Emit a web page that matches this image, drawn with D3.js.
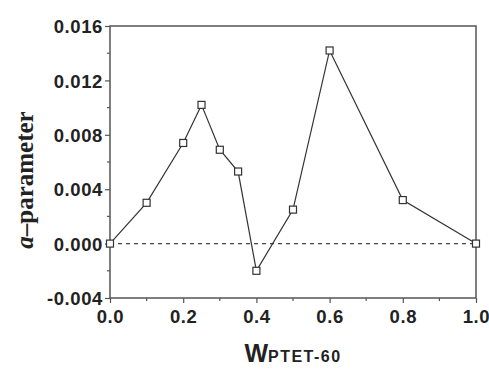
<!DOCTYPE html>
<html>
<head>
<meta charset="utf-8">
<script src="https://cdn.jsdelivr.net/npm/d3@7"></script>
<style>
body { margin: 0; background: #fff; }
.tick text { font-family: "Liberation Sans", Arial, sans-serif; font-weight: bold; font-size: 18.5px; letter-spacing: 0.6px; fill: #222; }
</style>
</head>
<body>
<div id="chart"></div>
<script>
var width = 489,
    height = 369;

// data
var xValues = [0.0, 0.1, 0.2, 0.25, 0.3, 0.35, 0.4, 0.5, 0.6, 0.8, 1.0];
var aValues = [0.0000, 0.0030, 0.0074, 0.0102, 0.0069, 0.0053, -0.0020, 0.0025, 0.0142, 0.0032, 0.0000];
var xTicks = [0, 0.2, 0.4, 0.6, 0.8, 1.0];
var yTicks = [-0.004, 0, 0.004, 0.008, 0.012, 0.016];

var margin = {top: 26, right: 13, bottom: 71, left: 110};

var svg = d3.select('#chart')
    .append('svg')
    .attr('width', width)
    .attr('height', height);

var x = d3.scaleLinear().domain([0, 1]).range([margin.left, width - margin.right]);
var y = d3.scaleLinear().domain([-0.004, 0.016]).range([height - margin.bottom, margin.top]);

var axisColor = '#555';
// plain hyphen for negatives, like the original
var fmt = p => d => d3.format(p)(d).replace('\u2212', '-');

// minor ticks
var xMinor = d3.range(0.1, 1, 0.2);
var yMinor = d3.range(-0.002, 0.016, 0.004);
svg.append('g').selectAll('line')
    .data(xMinor)
    .enter()
    .append('line')
    .attr('x1', d => x(d)).attr('x2', d => x(d))
    .attr('y1', y.range()[0]).attr('y2', y.range()[0] + 3)
    .attr('stroke', axisColor).attr('stroke-width', 1.2);
svg.append('g').selectAll('line')
    .data(yMinor)
    .enter()
    .append('line')
    .attr('x1', x.range()[0] - 3).attr('x2', x.range()[0])
    .attr('y1', d => y(d)).attr('y2', d => y(d))
    .attr('stroke', axisColor).attr('stroke-width', 1.2);

var xAxis = svg.append('g')
    .attr('transform', 'translate(0,' + y.range()[0] + ')')
    .call(d3.axisBottom(x).tickValues(xTicks).tickFormat(fmt('.1f')).tickSizeInner(5).tickSizeOuter(0).tickPadding(7));
var yAxis = svg.append('g')
    .attr('transform', 'translate(' + x.range()[0] + ',0)')
    .call(d3.axisLeft(y).tickValues(yTicks).tickFormat(fmt('.3f')).tickSizeInner(5).tickSizeOuter(0).tickPadding(2));

[xAxis, yAxis].forEach(g => {
    g.selectAll('line').attr('stroke', axisColor).attr('stroke-width', 1.2);
    g.select('.domain').remove();
});
yAxis.selectAll('text').attr('dy', '0.36em');

// frame
svg.append('rect')
    .attr('x', x.range()[0])
    .attr('y', y.range()[1])
    .attr('width', x.range()[1] - x.range()[0])
    .attr('height', y.range()[0] - y.range()[1])
    .attr('fill', 'none')
    .attr('stroke', axisColor)
    .attr('stroke-width', 1.5);

// zero reference line
svg.append('line')
    .attr('x1', x(0)).attr('x2', x(1))
    .attr('y1', y(0)).attr('y2', y(0))
    .attr('stroke', '#444')
    .attr('stroke-width', 1.2)
    .attr('stroke-dasharray', '4,4');

var points = xValues.map((d, i) => [d, aValues[i]]);

var line = d3.line()
    .x(d => x(d[0]))
    .y(d => y(d[1]));

svg.append('path')
    .datum(points)
    .attr('d', line)
    .attr('fill', 'none')
    .attr('stroke', '#333')
    .attr('stroke-width', 1.2);

var s = 7;
svg.selectAll('rect.marker')
    .data(points)
    .enter()
    .append('rect')
    .attr('class', 'marker')
    .attr('x', d => x(d[0]) - s / 2)
    .attr('y', d => y(d[1]) - s / 2)
    .attr('width', s)
    .attr('height', s)
    .attr('fill', '#fff')
    .attr('stroke', '#333')
    .attr('stroke-width', 1.2);

// axis titles
var yTitle = svg.append('text')
    .attr('transform', 'translate(33,180) rotate(-90)')
    .attr('text-anchor', 'middle')
    .style('font-family', '"Liberation Serif", "Times New Roman", serif')
    .style('font-weight', 'bold')
    .style('font-size', '25px')
    .attr('fill', '#222');
yTitle.append('tspan').style('font-style', 'italic').text('a');
yTitle.append('tspan').text('\u2013parameter');

var xTitle = svg.append('text')
    .attr('x', (x.range()[0] + x.range()[1]) / 2)
    .attr('y', 362)
    .attr('text-anchor', 'middle')
    .style('font-family', '"Liberation Sans", Arial, sans-serif')
    .style('font-weight', 'bold')
    .attr('fill', '#222');
xTitle.append('tspan').style('font-size', '25px').text('W');
xTitle.append('tspan').style('font-size', '16px').style('letter-spacing', '1.5px').text('PTET-60');
</script>
</body>
</html>
